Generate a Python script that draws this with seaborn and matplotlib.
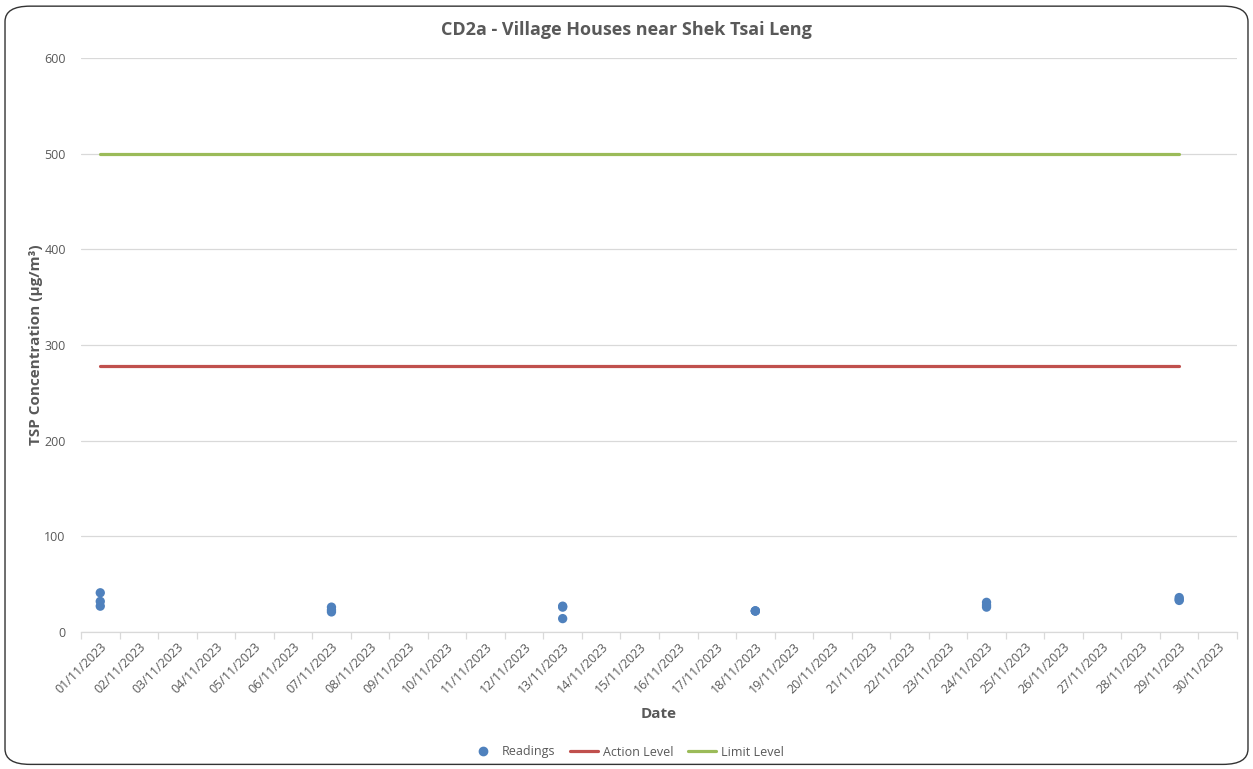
import matplotlib
matplotlib.use("Agg")
import matplotlib.pyplot as plt
import seaborn as sns
import pandas as pd
import numpy as np
from matplotlib.patches import FancyBboxPatch
from matplotlib.ticker import FixedLocator, NullFormatter

# Monitoring days shown on the axis
dates = [f"{d:02d}/11/2023" for d in range(1, 31)]

# 1-hour TSP readings (µg/m³)
reading_dates = ["01/11/2023"] * 3 + ["07/11/2023"] * 3 + ["13/11/2023"] * 3 + \
                ["18/11/2023"] * 3 + ["24/11/2023"] * 3 + ["29/11/2023"] * 3
reading_values = [41, 32, 27,
                  26, 23, 21,
                  27, 26, 14,
                  22, 22, 22,
                  31, 28, 26,
                  36, 34, 33]

# Assessment levels (µg/m³)
level_dates = ["01/11/2023", "29/11/2023"]
action_level = [278, 278]
limit_level = [500, 500]

y_ticks = [0, 100, 200, 300, 400, 500, 600]

grey_text = "#595959"
font = "Open Sans"

sns.set_theme(style="white")
plt.rcParams["font.family"] = [font, "DejaVu Sans"]

pos = {d: i for i, d in enumerate(dates)}
readings = pd.DataFrame({"x": [pos[d] for d in reading_dates], "y": reading_values})
levels = pd.DataFrame({
    "x": [pos[d] for d in level_dates] * 2,
    "y": action_level + limit_level,
    "series": ["Action Level"] * 2 + ["Limit Level"] * 2,
})

fig = plt.figure(figsize=(12.53, 7.69), dpi=100)
ax = fig.add_axes([81 / 1253, 1 - 632 / 769, (1237 - 81) / 1253, (632 - 58) / 769])

sns.lineplot(data=levels, x="x", y="y", hue="series",
             palette={"Action Level": "#c0504d", "Limit Level": "#9bbb59"},
             linewidth=2.3, ax=ax, legend=False, zorder=2)
sns.scatterplot(data=readings, x="x", y="y", color="#4f81bd", s=45,
                edgecolor="none", ax=ax, zorder=3)

ax.set_xlim(-0.5, len(dates) - 0.5)
ax.set_ylim(0, 600)
ax.set_yticks(y_ticks)
ax.set_yticklabels([str(v) for v in y_ticks], fontsize=9, color=grey_text)
ax.yaxis.grid(True, color="#d9d9d9", linewidth=0.9)
ax.set_axisbelow(True)

ax.set_xticks(range(len(dates)))
ax.set_xticklabels(dates, rotation=45, ha="right", rotation_mode="anchor",
                   fontsize=9, color=grey_text)
ax.xaxis.set_minor_locator(FixedLocator(np.arange(-0.5, len(dates), 1)))
ax.xaxis.set_minor_formatter(NullFormatter())
ax.tick_params(axis="x", which="major", length=0, pad=6)
ax.tick_params(axis="x", which="minor", length=5, color="#d9d9d9", width=0.9, bottom=True)
ax.tick_params(axis="y", length=0, pad=11)

for side in ["left", "right", "top"]:
    ax.spines[side].set_visible(False)
ax.spines["bottom"].set_color("#d9d9d9")
ax.spines["bottom"].set_linewidth(0.9)

ax.set_xlabel("Date", fontsize=11, fontweight="bold", color=grey_text, labelpad=8)
ax.set_ylabel("TSP Concentration (µg/m³)", fontsize=11, fontweight="bold",
              color=grey_text)
ax.yaxis.set_label_coords((43 - 81) / 1156, (632 - 345) / 574)
fig.text(0.5, 1 - 30 / 769, "CD2a - Village Houses near Shek Tsai Leng",
         ha="center", va="center", fontsize=13, fontweight="bold", color=grey_text)

handles = [
    plt.Line2D([], [], marker="o", linestyle="none", color="#4f81bd", markersize=6),
    plt.Line2D([], [], color="#c0504d", linewidth=2.3),
    plt.Line2D([], [], color="#9bbb59", linewidth=2.3),
]
leg = fig.legend(handles, ["Readings", "Action Level", "Limit Level"],
                 loc="center", bbox_to_anchor=(0.5, 1 - 752 / 769), ncol=3,
                 frameon=False, fontsize=9, handlelength=2.2, columnspacing=1.2,
                 handletextpad=0.4)
for t in leg.get_texts():
    t.set_color(grey_text)

fig.patches.append(FancyBboxPatch((0.004, 0.006), 0.992, 0.986,
                                  boxstyle="round,pad=0,rounding_size=0.02",
                                  transform=fig.transFigure, fill=False,
                                  edgecolor="#333333", linewidth=1.0))

fig.savefig("out.png", dpi=100)
